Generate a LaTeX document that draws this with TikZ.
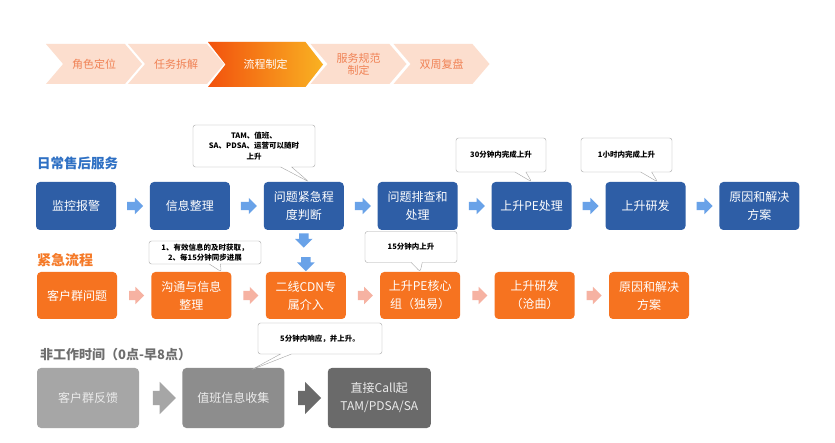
\documentclass[tikz,border=0pt]{standalone}
\usepackage{fontspec}
\setmainfont{Noto Sans CJK SC}
\usetikzlibrary{shapes.symbols, shapes.arrows, shapes.callouts, positioning, calc}
\definecolor{peach}{RGB}{252, 222, 206}
\definecolor{peachtext}{RGB}{240, 130, 85}
\definecolor{hotleft}{RGB}{242, 82, 14}
\definecolor{hotright}{RGB}{249, 178, 34}
\definecolor{dayblue}{RGB}{46, 94, 166}
\definecolor{daytitle}{RGB}{46, 112, 196}
\definecolor{dayarrow}{RGB}{105, 162, 232}
\definecolor{urgent}{RGB}{246, 115, 32}
\definecolor{urgenttitle}{RGB}{245, 122, 40}
\definecolor{urgentarrow}{RGB}{246, 178, 162}
\definecolor{nightA}{RGB}{166, 166, 166}
\definecolor{nightB}{RGB}{141, 141, 141}
\definecolor{nightC}{RGB}{106, 106, 106}
\definecolor{nighttitle}{RGB}{110, 110, 110}
\definecolor{calloutline}{RGB}{165, 165, 165}

\begin{document}
\begin{tikzpicture}[
            x=1pt, y=-1pt,
            stage/.style={signal, signal to=east, signal from=west, signal pointer angle=99, minimum width=96pt, minimum height=40pt, inner sep=0pt, fill=peach, text=peachtext, font=\fontsize{11}{13}\selectfont},
            title/.style={anchor=west, inner sep=0pt, font=\fontsize{14}{16}\selectfont\bfseries},
            box/.style={rounded corners=4pt, minimum width=80pt, minimum height=48pt, inner sep=2pt, align=center, text=white, font=\fontsize{12}{18}\selectfont},
            daybox/.style={box, fill=dayblue},
            urgentbox/.style={box, fill=urgent, minimum height=47pt},
            nightbox/.style={box, minimum width=102pt, minimum height=60pt, text=white!92!black},
            blockarrow/.style={single arrow, draw=none, inner sep=4pt, single arrow head extend=4pt, minimum height=16pt},
            note/.style={rectangle callout, draw=calloutline, fill=white, rounded corners=2.5pt, callout pointer width=11pt, inner sep=2pt, align=center, font=\fontsize{7.5}{10.5}\selectfont\bfseries}
        ]
            \useasboundingbox[fill=white] (0,0) rectangle (835,443);

            % stage bar
            \node[stage] (s1) at (94,64) {角色定位};
            \node[stage] (s2) at (176,64) {任务拆解};
            \node[stage, minimum width=115pt, minimum height=45pt, signal pointer angle=104, left color=hotleft, right color=hotright, text=white] (s3) at (265.5,64.5) {流程制定};
            \node[stage, align=center, font=\fontsize{11}{12}\selectfont] (s4) at (358.5,64) {服务规范\\制定};
            \node[stage] (s5) at (441.5,64) {双周复盘};

            % daily service
            \node[title, text=daytitle, font=\fontsize{13.5}{16}\selectfont\bfseries] (daytitle) at (37,163) {日常售后服务};
            \node[daybox] (b1) at (76,206) {监控报警};
            \node[daybox, right=33.5pt of b1] (b2) {信息整理};
            \node[daybox, right=33.5pt of b2] (b3) {问题紧急程\\度判断};
            \node[daybox, right=33.5pt of b3] (b4) {问题排查和\\处理};
            \node[daybox, right=33.5pt of b4] (b5) {上升PE处理};
            \node[daybox, right=33.5pt of b5] (b6) {上升研发};
            \node[daybox, right=33.5pt of b6] (b7) {原因和解决\\方案};

            \node[blockarrow, fill=dayarrow] (a12) at ($(b1.east)!0.5!(b2.west)$) {};
            \node[blockarrow, fill=dayarrow] (a23) at ($(b2.east)!0.5!(b3.west)$) {};
            \node[blockarrow, fill=dayarrow] (a34) at ($(b3.east)!0.5!(b4.west)$) {};
            \node[blockarrow, fill=dayarrow] (a45) at ($(b4.east)!0.5!(b5.west)$) {};
            \node[blockarrow, fill=dayarrow] (a56) at ($(b5.east)!0.5!(b6.west)$) {};
            \node[blockarrow, fill=dayarrow] (a67) at ($(b6.east)!0.5!(b7.west)$) {};

            % urgent flow
            \node[title, text=urgenttitle] (urgenttitle) at (37,260) {紧急流程};
            \node[urgentbox] (o1) at (77,295.5) {客户群问题};
            \node[urgentbox, right=34pt of o1] (o2) {沟通与信息\\整理};
            \node[urgentbox, right=34pt of o2] (o3) {二线CDN专\\属介入};
            \node[urgentbox, right=34pt of o3] (o4) {上升PE核心\\组（独易）};
            \node[urgentbox, right=34pt of o4] (o5) {上升研发\\（沧曲）};
            \node[urgentbox, right=34pt of o5] (o6) {原因和解决\\方案};

            \node[blockarrow, fill=urgentarrow, minimum height=15pt, inner sep=4.5pt] (u12) at ($(o1.east)!0.5!(o2.west)$) {};
            \node[blockarrow, fill=urgentarrow, minimum height=15pt, inner sep=4.5pt] (u23) at ($(o2.east)!0.5!(o3.west)$) {};
            \node[blockarrow, fill=urgentarrow, minimum height=15pt, inner sep=4.5pt] (u34) at ($(o3.east)!0.5!(o4.west)$) {};
            \node[blockarrow, fill=urgentarrow, minimum height=15pt, inner sep=4.5pt] (u45) at ($(o4.east)!0.5!(o5.west)$) {};
            \node[blockarrow, fill=urgentarrow, minimum height=15pt, inner sep=4.5pt] (u56) at ($(o5.east)!0.5!(o6.west)$) {};

            % hand-over from daily to urgent
            \node[blockarrow, fill=dayarrow, shape border rotate=270, minimum height=13pt, inner sep=4.5pt] (d1) at ([yshift=-8pt]b3.south) {};
            \node[blockarrow, fill=dayarrow, shape border rotate=270, minimum height=11pt, inner sep=4.5pt] (d2) at ([yshift=10pt]o3.north) {};

            % after hours
            \node[title, text=nighttitle, font=\fontsize{13}{15}\selectfont\bfseries] (nighttitle) at (40,355) {非工作时间（0点-早8点）};
            \node[nightbox, fill=nightA] (g1) at (88,398) {客户群反馈};
            \node[nightbox, fill=nightB, right=43pt of g1] (g2) {值班信息收集};
            \node[nightbox, fill=nightC, right=43pt of g2, minimum width=103pt] (g3) {直接Call起\\TAM/PDSA/SA};

            \node[blockarrow, fill=nightA, inner sep=7pt, single arrow head extend=9pt, minimum height=23pt] (n12) at ($(g1.east)!0.5!(g2.west)$) {};
            \node[blockarrow, fill=nightC, inner sep=7pt, single arrow head extend=9pt, minimum height=23pt] (n23) at ($(g2.east)!0.5!(g3.west)$) {};

            % notes
            \node[note, minimum width=122pt, minimum height=42pt, callout absolute pointer={([xshift=5pt]b3.north)}] (c1) at (254,146) {TAM、值班、\\SA、PDSA、运营可以随时\\上升};
            \node[note, minimum width=112pt, minimum height=23pt, callout absolute pointer={([xshift=30pt]o2.north)}] (c2) at (205,252.5) {1、有效信息的及时获取，\\2、每15分钟同步进展};
            \node[note, minimum width=92pt, minimum height=31pt, callout absolute pointer={(o4.north)}] (c3) at (411,247) {15分钟内上升};
            \node[note, minimum width=90pt, minimum height=34pt, callout absolute pointer={(b5.north)}] (c4) at (501,155) {30分钟内完成上升};
            \node[note, minimum width=91pt, minimum height=34pt, callout absolute pointer={([xshift=12pt]b6.north)}] (c5) at (626.5,155) {1小时内完成上升};
            \node[note, minimum width=124pt, minimum height=31pt, callout absolute pointer={([xshift=18pt,yshift=-2pt]g2.north)}] (c6) at (320,338.5) {5分钟内响应，并上升。};
        \end{tikzpicture}
\end{document}
